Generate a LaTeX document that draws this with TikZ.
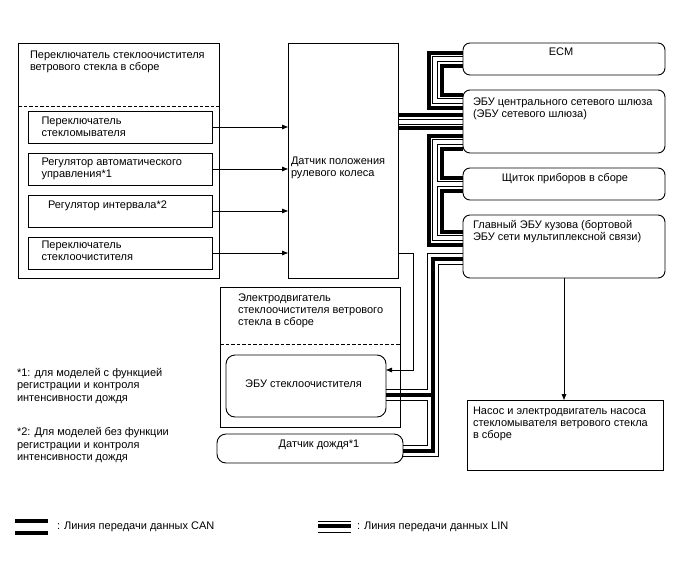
\documentclass[tikz,border=0pt]{standalone}
\usepackage{fontspec}
\setmainfont{Liberation Sans}
\usetikzlibrary{arrows.meta,backgrounds,calc}
\newcommand{\fs}{\fontsize{11}{12}\selectfont}
\newcommand{\fsn}{\fontsize{11}{12.5}\selectfont}
\newcommand{\canbus}[1]{%
  \draw[line width=17pt, line join=miter] #1;
  \draw[line width=9pt, white, line join=miter] #1;
  \draw[line width=6pt, line join=miter] #1;
  \draw[line width=4pt, white, line join=miter] #1;}
\newcommand{\linbus}[1]{%
  \draw[line width=12pt, line join=miter] #1;
  \draw[line width=10pt, white, line join=miter] #1;
  \draw[line width=4pt, line join=miter] #1;}
\begin{document}
\begin{tikzpicture}[x=1pt,y=-1pt,
  box/.style={draw, line width=0.9pt, inner sep=0pt, outer sep=0pt, anchor=north west},
  rbox/.style={box, rounded corners=7pt},
  txt/.style={font=\fs, inner sep=0pt, outer sep=0pt, align=left, anchor=north west},
  ntxt/.style={font=\fsn, inner sep=0pt, outer sep=0pt, align=left, anchor=north west},
  ctxt/.style={font=\fs, inner sep=0pt, outer sep=0pt, anchor=base},
  arr/.style={line width=0.9pt, -{Triangle[length=6pt,width=4.5pt]}},
  dashline/.style={line width=0.9pt, dash pattern=on 3.5pt off 2pt}
]
\useasboundingbox (0,0) rectangle (688,560);

% left switch assembly
\node[box, minimum width=201pt, minimum height=235pt] (sw) at (18,43) {};
\node[txt] (tsw) at (30,49.9) {\strut Переключатель стеклоочистителя\\ветрового стекла в сборе};
\coordinate (d1) at (0,106);
\draw[dashline] (sw.west |- d1) -- (sw.east |- d1);
\node[box, minimum width=184pt, minimum height=32pt] (b1) at (28,111) {};
\node[box, minimum width=184pt, minimum height=32pt] (b2) at (28,153) {};
\node[box, minimum width=184pt, minimum height=32pt] (b3) at (28,195) {};
\node[box, minimum width=184pt, minimum height=32pt] (b4) at (28,237) {};
\node[txt] (tb1) at (41.5,116.3) {\strut Переключатель\\стекломывателя};
\node[txt] (tb2) at (41.5,156.9) {\strut Регулятор автоматического\\управления*1};
\node[txt] (tb3) at (48,200.2) {\strut Регулятор интервала*2};
\node[txt] (tb4) at (41.5,240.2) {\strut Переключатель\\стеклоочистителя};

% steering sensor
\node[box, minimum width=110pt, minimum height=235pt] (ss) at (288,43) {};
\node[txt] (tss) at (291,155.9) {\strut Датчик положения\\рулевого колеса};

% right ECUs
\node[rbox, minimum width=202pt, minimum height=32pt] (ecm) at (463,43) {};
\node[ctxt] (tecm) at (561,55.9) {ECM};
\node[rbox, minimum width=202pt, minimum height=63pt] (gw) at (463,90) {};
\node[txt] (tgw) at (473,96.9) {\strut ЭБУ центрального сетевого шлюза\\(ЭБУ сетевого шлюза)};
\node[rbox, minimum width=202pt, minimum height=32pt] (sh) at (463,168) {};
\node[ctxt] (tsh) at (565,181) {Щиток приборов в сборе};
\node[rbox, minimum width=202pt, minimum height=63pt] (gl) at (463,215) {};
\node[txt] (tgl) at (473,219.9) {\strut Главный ЭБУ кузова (бортовой\\ЭБУ сети мультиплексной связи)};

% pump
\node[box, minimum width=196pt, minimum height=70pt] (pump) at (467,400) {};
\node[txt] (tpump) at (473,405.9) {\strut Насос и электродвигатель насоса\\стекломывателя ветрового стекла\\в сборе};

% wiper motor
\node[box, minimum width=180pt, minimum height=140pt] (motor) at (220,287) {};
\node[txt] (tmotor) at (238,292.6) {\strut Электродвигатель\\стеклоочистителя ветрового\\стекла в сборе};
\coordinate (d2) at (0,344);
\draw[dashline] (motor.west |- d2) -- (motor.east |- d2);
\node[rbox, rounded corners=9pt, minimum width=160pt, minimum height=62pt] (ecu) at (226,355) {};
\node[ctxt] (tecu) at (303.5,387) {ЭБУ стеклоочистителя};
\node[rbox, rounded corners=9pt, minimum width=186pt, minimum height=29pt] (rain) at (217,434) {};
\node[ctxt] (train) at (319,447.6) {Датчик дождя*1};

% footnotes
\node[ntxt] (fn1) at (17,367.6) {\strut *1: для моделей с функцией\\регистрации и контроля\\интенсивности дождя};
\node[ntxt] (fn2) at (17,426.9) {\strut *2: Для моделей без функции\\регистрации и контроля\\интенсивности дождя};

% arrows
\draw[arr] (b1.east) -- (b1.east -| ss.west);
\draw[arr] (b2.east) -- (b2.east -| ss.west);
\draw[arr] (b3.east) -- (b3.east -| ss.west);
\draw[arr] (b4.east) -- (b4.east -| ss.west);
\coordinate (ax) at (413,0);
\coordinate (ecuA) at ([yshift=16pt]ecu.east);
\draw[arr] (ss.east |- b4.east) -- (ax |- b4.east) -- (ax |- ecuA) -- (ecuA);
\draw[arr] (gl.south) -- (pump.north -| gl.south);

% buses
\coordinate (ct) at (435,0);
\coordinate (lt) at (433,0);
\coordinate (gwA) at ([yshift=20.5pt]gw.west);
\coordinate (gwB) at ([yshift=-20.5pt]gw.west);
\coordinate (glA) at ([yshift=8.5pt]gl.west);
\coordinate (glB) at ([yshift=-12.5pt]gl.west);
\coordinate (ecuL) at ([yshift=-9pt]ecu.east);
\coordinate (rainL) at ([yshift=-2.5pt]rain.east);
\begin{scope}[on background layer]
\fill[white] (0,0) rectangle (688,560);
\canbus{(ecm.west) -- (ecm.west -| ct) -- (gwA -| ct) -- (gwA)}
\canbus{(ss.east |- gw.west) -- (gw.west)}
\canbus{(gwB) -- (gwB -| ct) -- (glA -| ct) -- (glA) (sh.west -| ct) -- (sh.west)}
\linbus{(glB) -- (glB -| lt) -- (rainL -| lt) -- (rainL) (ecuL -| lt) -- (ecuL)}
\end{scope}

% legend
\coordinate (lc1) at (15,521);
\coordinate (lc2) at (48,521);
\coordinate (lc3) at (15,532.8);
\coordinate (lc4) at (48,532.8);
\draw[line width=3.4pt] (lc1) -- (lc2);
\draw[line width=3.4pt] (lc3) -- (lc4);
\node[ctxt, anchor=base west] (lcan) at (57,529) {: Линия передачи данных CAN};
\coordinate (ll1) at (318,521.3);
\coordinate (ll2) at (351,521.3);
\coordinate (ll3) at (318,526.3);
\coordinate (ll4) at (351,526.3);
\coordinate (ll5) at (318,532.7);
\coordinate (ll6) at (351,532.7);
\draw[line width=1.3pt] (ll1) -- (ll2);
\draw[line width=4pt] (ll3) -- (ll4);
\draw[line width=1.3pt] (ll5) -- (ll6);
\node[ctxt, anchor=base west] (llin) at (357,529) {: Линия передачи данных LIN};
\end{tikzpicture}
\end{document}
